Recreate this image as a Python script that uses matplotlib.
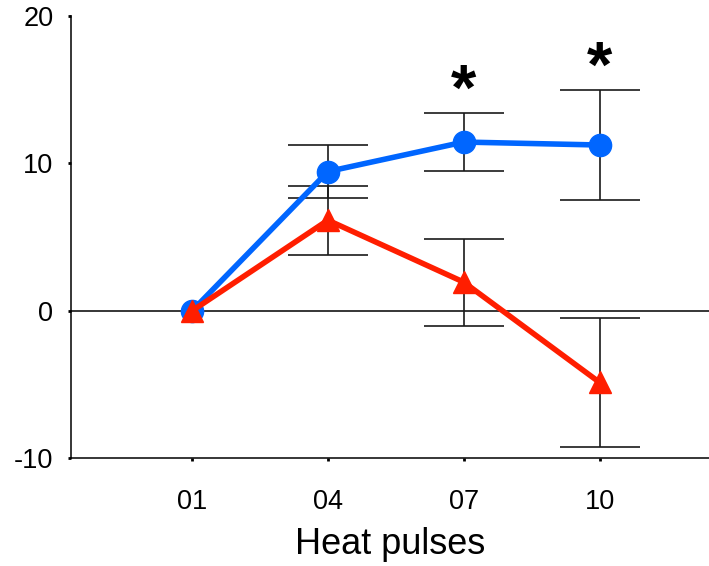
import matplotlib
matplotlib.use("Agg")
import matplotlib.pyplot as plt
import numpy as np

plt.rcParams['font.family'] = ['Liberation Sans', 'DejaVu Sans']

categories = ["01", "04", "07", "10"]
blue_mean = [0.0, 9.45, 11.45, 11.25]
blue_err = [0.0, 1.8, 1.95, 3.7]
red_mean = [0.0, 6.15, 1.95, -4.85]
red_err = [0.0, 2.35, 2.95, 4.4]
star_idx = [2, 3]
yticks = [-10, 0, 10, 20]

W, H = 709, 566
fig = plt.figure(figsize=(W / 100, H / 100), dpi=100)
left, right, top, bottom = 70.5, 709, 16, 458.3
ax = fig.add_axes([left / W, 1 - bottom / H, (right - left) / W, (bottom - top) / H])

x = np.arange(len(categories))
blue_c = "#0066FF"
red_c = "#FF1E00"

ax.axhline(0, color="black", lw=1.1, zorder=1)

ax.errorbar(x[1:], blue_mean[1:], yerr=blue_err[1:], fmt="none", ecolor="#1a1a1a",
            elinewidth=1.2, capsize=28.5, capthick=1.2, zorder=2)
ax.errorbar(x[1:], red_mean[1:], yerr=red_err[1:], fmt="none", ecolor="#1a1a1a",
            elinewidth=1.2, capsize=28.5, capthick=1.2, zorder=2)

ax.plot(x, blue_mean, color=blue_c, lw=4, marker="o", ms=16, mec=blue_c, zorder=3)
ax.plot(x, red_mean, color=red_c, lw=4, marker="^", ms=16, mec=red_c, zorder=4)

for i in star_idx:
    ax.annotate("*", xy=(x[i], blue_mean[i] + blue_err[i]), xytext=(0, -7),
                textcoords="offset points", ha="center", va="bottom",
                fontsize=47, fontweight="bold", color="black")

ax.set_xlim(-0.895, 3.806)
ax.set_ylim(-10, 20)
ax.set_xticks(x)
ax.set_xticklabels(categories)
ax.set_yticks(yticks)
ax.set_yticklabels([str(v) for v in yticks])

for s in ["top", "right"]:
    ax.spines[s].set_visible(False)
for s in ["left", "bottom"]:
    ax.spines[s].set_linewidth(1.1)
    ax.spines[s].set_color("black")

ax.tick_params(axis="y", direction="out", length=2, width=2, pad=10.4, labelsize=19.5)
ax.tick_params(axis="x", direction="out", length=2, width=2, pad=20, labelsize=19.5)
ax.set_xlabel("Heat pulses", fontsize=26, labelpad=9)

fig.savefig("out.png", dpi=100)
